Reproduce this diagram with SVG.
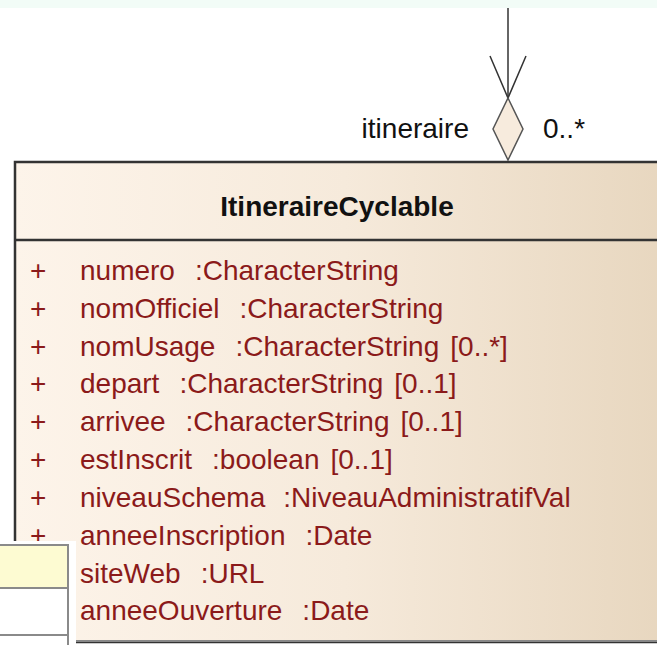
<svg xmlns="http://www.w3.org/2000/svg" width="657" height="645" viewBox="0 0 657 645">
<defs>
<linearGradient id="cls" x1="0" y1="0" x2="1" y2="0">
<stop offset="0" stop-color="#fdf4ea"/>
<stop offset="0.5" stop-color="#f6eadb"/>
<stop offset="1" stop-color="#e7d6be"/>
</linearGradient>
<style>
.attr{font-family:"Liberation Sans",Arial,sans-serif;font-size:28px;fill:#8b1a1a}
.lbl{font-family:"Liberation Sans",Arial,sans-serif;font-size:28px;fill:#111}
.title{font-family:"Liberation Sans",Arial,sans-serif;font-size:28px;font-weight:bold;fill:#111}
.edge{stroke:#333;stroke-width:1.5;fill:none}
</style>
</defs>
<rect x="0" y="0" width="657" height="645" fill="#ffffff"/>
<rect x="0" y="0" width="657" height="8" fill="#f2fcf7"/>

<g id="connectors">
<line class="edge" x1="508" y1="8" x2="508" y2="98"/>
<polyline class="edge" points="490,56 508,98 526,56"/>
<polygon points="508,98 523,129 508,160 493,129" fill="#f7ebdd" stroke="#555" stroke-width="1.5"/>
<text class="lbl" x="469" y="138" text-anchor="end">itineraire</text>
<text class="lbl" x="543" y="138">0..*</text>
</g>

<g id="ItineraireCyclable">
<rect x="15" y="162" width="660" height="480" fill="url(#cls)" stroke="#333" stroke-width="2.5"/>
<line x1="15" y1="240" x2="657" y2="240" stroke="#333" stroke-width="2.5"/>
<line x1="15" y1="641" x2="657" y2="641" stroke="#888" stroke-width="2"/>
<text class="title" x="337" y="216" text-anchor="middle">ItineraireCyclable</text>
<g class="attr">
<text x="30" y="280">+</text><text x="80" y="280">numero<tspan dx="20">:CharacterString</tspan></text>
<text x="30" y="318">+</text><text x="80" y="318">nomOfficiel<tspan dx="20">:CharacterString</tspan></text>
<text x="30" y="356">+</text><text x="80" y="356">nomUsage<tspan dx="20">:CharacterString</tspan><tspan dx="11">[0..*]</tspan></text>
<text x="30" y="393">+</text><text x="80" y="393">depart<tspan dx="20">:CharacterString</tspan><tspan dx="11">[0..1]</tspan></text>
<text x="30" y="431">+</text><text x="80" y="431">arrivee<tspan dx="20">:CharacterString</tspan><tspan dx="11">[0..1]</tspan></text>
<text x="30" y="469">+</text><text x="80" y="469">estInscrit<tspan dx="20">:boolean</tspan><tspan dx="11">[0..1]</tspan></text>
<text x="30" y="507">+</text><text x="80" y="507">niveauSchema<tspan dx="18">:NiveauAdministratifVal</tspan></text>
<text x="30" y="545">+</text><text x="80" y="545">anneeInscription<tspan dx="20">:Date</tspan></text>
<text x="30" y="583">+</text><text x="80" y="583">siteWeb<tspan dx="20">:URL</tspan></text>
<text x="30" y="620">+</text><text x="80" y="620">anneeOuverture<tspan dx="20">:Date</tspan></text>
</g>
</g>

<g id="overlay">
<rect x="0" y="541" width="76" height="104" fill="#ffffff"/>
<rect x="-2" y="545" width="70" height="43" fill="#fdfbd2" stroke="#8a8a8a" stroke-width="2"/>
<line x1="68" y1="588" x2="68" y2="645" stroke="#8a8a8a" stroke-width="2"/>
<line x1="0" y1="635" x2="68" y2="635" stroke="#8a8a8a" stroke-width="2"/>
</g>
</svg>
